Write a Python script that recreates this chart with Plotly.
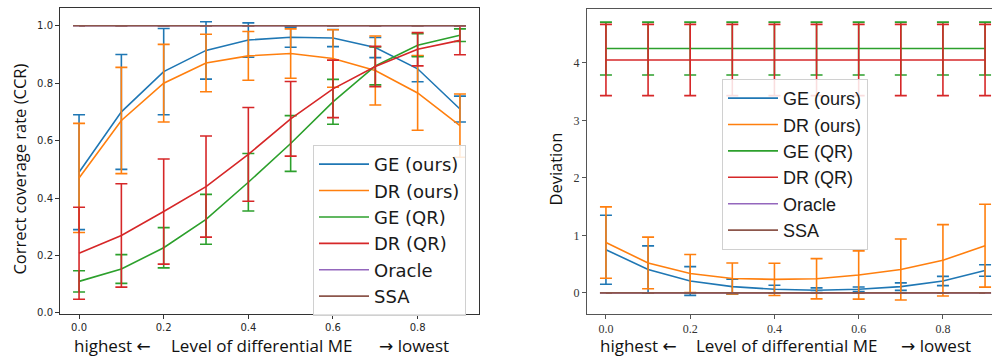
import plotly.graph_objects as go

W, H = 992, 357

x_levels = [0.0, 0.1, 0.2, 0.3, 0.4, 0.5, 0.6, 0.7, 0.8, 0.9]
names = ["GE (ours)", "DR (ours)", "GE (QR)", "DR (QR)", "Oracle", "SSA"]
colors = ["#1f77b4", "#ff7f0e", "#2ca02c", "#d62728", "#9467bd", "#8c564b"]

# Left panel: correct coverage rate
ccr_mean = {
    "GE (ours)": [0.49, 0.70, 0.84, 0.914, 0.95, 0.96, 0.957, 0.924, 0.85, 0.71],
    "DR (ours)": [0.47, 0.67, 0.80, 0.87, 0.895, 0.903, 0.886, 0.844, 0.766, 0.652],
    "GE (QR)":   [0.11, 0.153, 0.227, 0.326, 0.455, 0.59, 0.735, 0.86, 0.932, 0.967],
    "DR (QR)":   [0.208, 0.27, 0.353, 0.44, 0.552, 0.676, 0.78, 0.858, 0.918, 0.949],
    "Oracle":    [1.0] * 10,
    "SSA":       [1.0] * 10,
}
ccr_err = {
    "GE (ours)": [0.20, 0.20, 0.15, 0.10, 0.06, 0.035, 0.03, 0.035, 0.045, 0.045],
    "DR (ours)": [0.19, 0.185, 0.135, 0.10, 0.085, 0.086, 0.10, 0.12, 0.13, 0.11],
    "GE (QR)":   [0.037, 0.05, 0.07, 0.087, 0.10, 0.097, 0.078, 0.066, 0.04, 0.022],
    "DR (QR)":   [0.16, 0.18, 0.183, 0.176, 0.163, 0.13, 0.10, 0.07, 0.058, 0.05],
    "Oracle":    [0.0] * 10,
    "SSA":       [0.0] * 10,
}

# Right panel: deviation
dev_mean = {
    "GE (ours)": [0.75, 0.407, 0.206, 0.108, 0.063, 0.046, 0.063, 0.108, 0.206, 0.39],
    "DR (ours)": [0.875, 0.52, 0.337, 0.25, 0.235, 0.245, 0.31, 0.406, 0.566, 0.82],
    "GE (QR)":   [4.25] * 10,
    "DR (QR)":   [4.05] * 10,
    "Oracle":    [0.0] * 10,
    "SSA":       [0.0] * 10,
}
dev_err = {
    "GE (ours)": [0.60, 0.41, 0.25, 0.13, 0.07, 0.04, 0.04, 0.065, 0.08, 0.10],
    "DR (ours)": [0.62, 0.45, 0.33, 0.27, 0.28, 0.35, 0.42, 0.53, 0.62, 0.72],
    "GE (QR)":   [0.46] * 10,
    "DR (QR)":   [0.62] * 10,
    "Oracle":    [0.0] * 10,
    "SSA":       [0.0] * 10,
}

x_ticks = [0.0, 0.2, 0.4, 0.6, 0.8]
x_ticktext = ["0.0", "0.2", "0.4", "0.6", "0.8"]
ccr_ticks = [0.0, 0.2, 0.4, 0.6, 0.8, 1.0]
ccr_ticktext = ["0.0", "0.2", "0.4", "0.6", "0.8", "1.0"]
dev_ticks = [0, 1, 2, 3, 4]
dev_ticktext = ["0", "1", "2", "3", "4"]

fig = go.Figure()

for name, c in zip(names, colors):
    fig.add_trace(go.Scatter(
        x=x_levels, y=ccr_mean[name], mode="lines", name=name,
        line=dict(color=c, width=1.6),
        error_y=dict(type="data", array=ccr_err[name], visible=True,
                     color=c, thickness=1.6, width=6),
        xaxis="x", yaxis="y", legend="legend",
    ))

for name, c in zip(names, colors):
    fig.add_trace(go.Scatter(
        x=x_levels, y=dev_mean[name], mode="lines", name=name,
        line=dict(color=c, width=1.6),
        error_y=dict(type="data", array=dev_err[name], visible=True,
                     color=c, thickness=1.6, width=6),
        xaxis="x2", yaxis="y2", legend="legend2",
    ))

def px(v):
    return v / W

def py(v):
    return (H - v) / H

sans_tick = dict(family="DejaVu Sans", size=10, color="#262626")
serif_tick = dict(family="Liberation Serif", size=12, color="#333333")

fig.update_layout(
    width=W, height=H,
    margin=dict(l=0, r=0, t=0, b=0),
    paper_bgcolor="white", plot_bgcolor="white",
    xaxis=dict(domain=[px(60), px(479)], range=[-0.045, 0.945],
               tickvals=x_ticks, ticktext=x_ticktext, ticks="outside",
               ticklen=4, tickcolor="#333", showline=True, linecolor="#333",
               linewidth=1, mirror=True, showgrid=False, zeroline=False,
               tickfont=sans_tick, anchor="y"),
    yaxis=dict(domain=[py(318), py(8)], range=[-0.002, 1.062],
               tickvals=ccr_ticks, ticktext=ccr_ticktext, ticks="outside",
               ticklen=4, tickcolor="#333", showline=True, linecolor="#333",
               linewidth=1, mirror=True, showgrid=False, zeroline=False,
               tickfont=sans_tick, anchor="x"),
    xaxis2=dict(domain=[px(587), 1.0], range=[-0.045, 0.9165],
                tickvals=x_ticks, ticktext=x_ticktext, ticks="outside",
                ticklen=4, tickcolor="#555", showline=True, linecolor="#555",
                linewidth=1, mirror=True, showgrid=False, zeroline=False,
                tickfont=serif_tick, anchor="y2"),
    yaxis2=dict(domain=[py(318), py(9)], range=[-0.36, 4.94],
                tickvals=dev_ticks, ticktext=dev_ticktext, ticks="outside",
                ticklen=4, tickcolor="#555", showline=True, linecolor="#555",
                linewidth=1, mirror=False, showgrid=False, zeroline=False,
                tickfont=serif_tick, anchor="x2"),
    legend=dict(x=px(313), y=py(147), xanchor="left", yanchor="top",
                itemwidth=50,
                bgcolor="rgba(255,255,255,0.85)", bordercolor="#d0d0d0",
                borderwidth=1, font=dict(family="DejaVu Sans", size=18, color="#1a1a1a")),
    legend2=dict(x=px(722), y=py(80), xanchor="left", yanchor="top",
                 itemwidth=50,
                 bgcolor="rgba(255,255,255,0.85)", bordercolor="#d0d0d0",
                 borderwidth=1, font=dict(family="Liberation Sans", size=18, color="#1a1a1a")),
    showlegend=True,
)

lab_font = dict(family="Open Sans", size=17, color="#111")
left_arrow = "highest <span style='font-family:DejaVu Sans'>\u2190</span>"
right_arrow = "<span style='font-family:DejaVu Sans'>\u2192</span> lowest"
annots = [
    dict(text="Correct coverage rate (CCR)", x=px(20), y=py(172), textangle=-90,
         font=dict(family="Open Sans", size=16.5, color="#111")),
    dict(text="Deviation", x=px(556), y=py(172), textangle=-90,
         font=dict(family="Open Sans", size=16.5, color="#111")),
    dict(text=left_arrow, x=px(112), y=py(350), font=lab_font),
    dict(text="Level of differential ME", x=px(261), y=py(350), font=lab_font),
    dict(text=right_arrow, x=px(414), y=py(350), font=lab_font),
    dict(text=left_arrow, x=px(638), y=py(350), font=lab_font),
    dict(text="Level of differential ME", x=px(786), y=py(350), font=lab_font),
    dict(text=right_arrow, x=px(936), y=py(350), font=lab_font),
]
for a in annots:
    a.update(xref="paper", yref="paper", showarrow=False,
             xanchor="center", yanchor="middle")
fig.update_layout(annotations=annots)

fig.write_html(
    "out.html",
    config={"displayModeBar": False},
    post_script="document.body.style.margin='0';document.body.style.overflow='hidden';",
)
